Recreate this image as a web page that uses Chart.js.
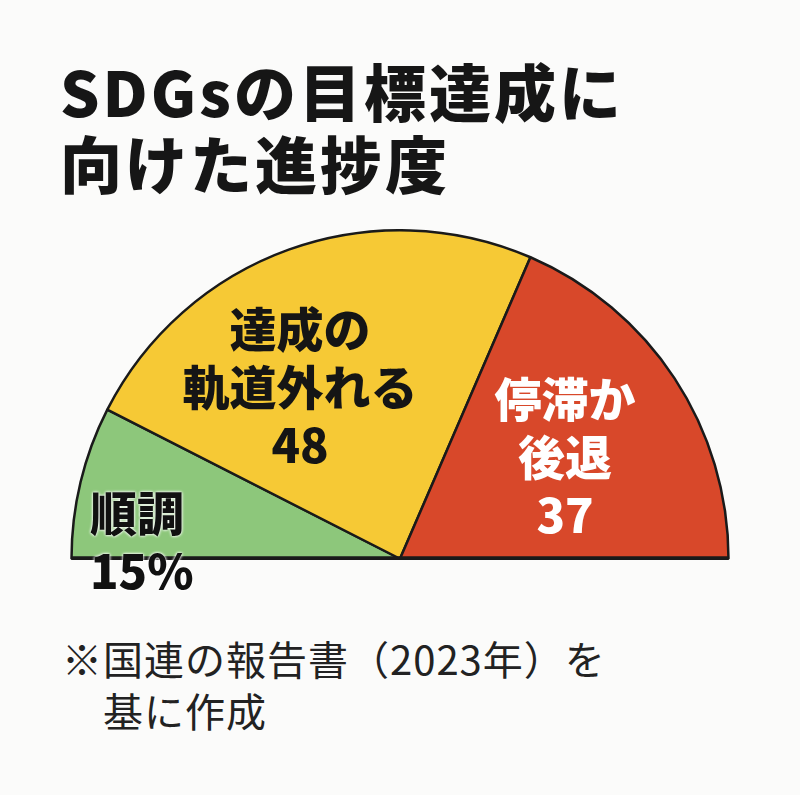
<!DOCTYPE html>
<html><head><meta charset="utf-8">
<script src="https://cdn.jsdelivr.net/npm/chart.js@4"></script>
<style>
body{margin:0;width:800px;height:795px;background:#fbfbfa;position:relative;overflow:hidden;font-family:"Noto Sans CJK JP","Noto Sans",sans-serif;}
#title{position:absolute;left:60px;top:54px;font-size:62px;font-weight:900;line-height:72px;color:#161616;letter-spacing:3px}
#note{position:absolute;left:62px;top:632px;font-size:40px;line-height:52px;color:#222;letter-spacing:1px}
#wrap{position:absolute;left:69px;top:229px;width:662px;height:331px}
.lb{position:absolute;font-weight:900;text-align:center;line-height:58px;font-size:47px}
</style></head><body>
<div id="title">SDGsの目標達成に<br>向けた進捗度</div>
<div id="wrap"><canvas id="c"></canvas></div>
<div class="lb" id="l0" style="left:90px;top:482px;text-align:left;color:#111;text-shadow:0 0 3px #fff,0 0 3px #fff"></div>
<div class="lb" id="l1" style="left:150px;top:298px;width:300px;color:#151515"></div>
<div class="lb" id="l2" style="left:470px;top:368px;width:190px;color:#fff"></div>
<div id="note">※国連の報告書（2023年）を<br>&emsp;基に作成</div>
<script>
const categories=["順調","達成の軌道外れる","停滞か後退"];
const labelLines=[["順調"],["達成の","軌道外れる"],["停滞か","後退"]];
const values=[15,48,37];
const suffix=["%","",""];
const colors=["#8dc77b","#f6c935","#d8482a"];
labelLines.forEach((ls,i)=>{document.getElementById("l"+i).innerHTML=ls.join("<br>")+"<br>"+values[i]+suffix[i];});
new Chart(document.getElementById("c"),{type:"pie",
data:{labels:categories,datasets:[{data:values,backgroundColor:colors,borderColor:"#1a1a1a",borderWidth:2.5}]},
options:{responsive:true,maintainAspectRatio:false,animation:false,rotation:-90,circumference:180,
layout:{padding:0},plugins:{legend:{display:false},tooltip:{enabled:false}}},
plugins:[{id:"base",afterDatasetsDraw(ch){const m=ch.getDatasetMeta(0).data[0];const x=ch.ctx;x.save();x.strokeStyle="#1a1a1a";x.lineWidth=3;x.beginPath();x.moveTo(m.x-m.outerRadius,m.y-1);x.lineTo(m.x+m.outerRadius,m.y-1);x.stroke();x.restore();}}]
});
</script></body></html>
